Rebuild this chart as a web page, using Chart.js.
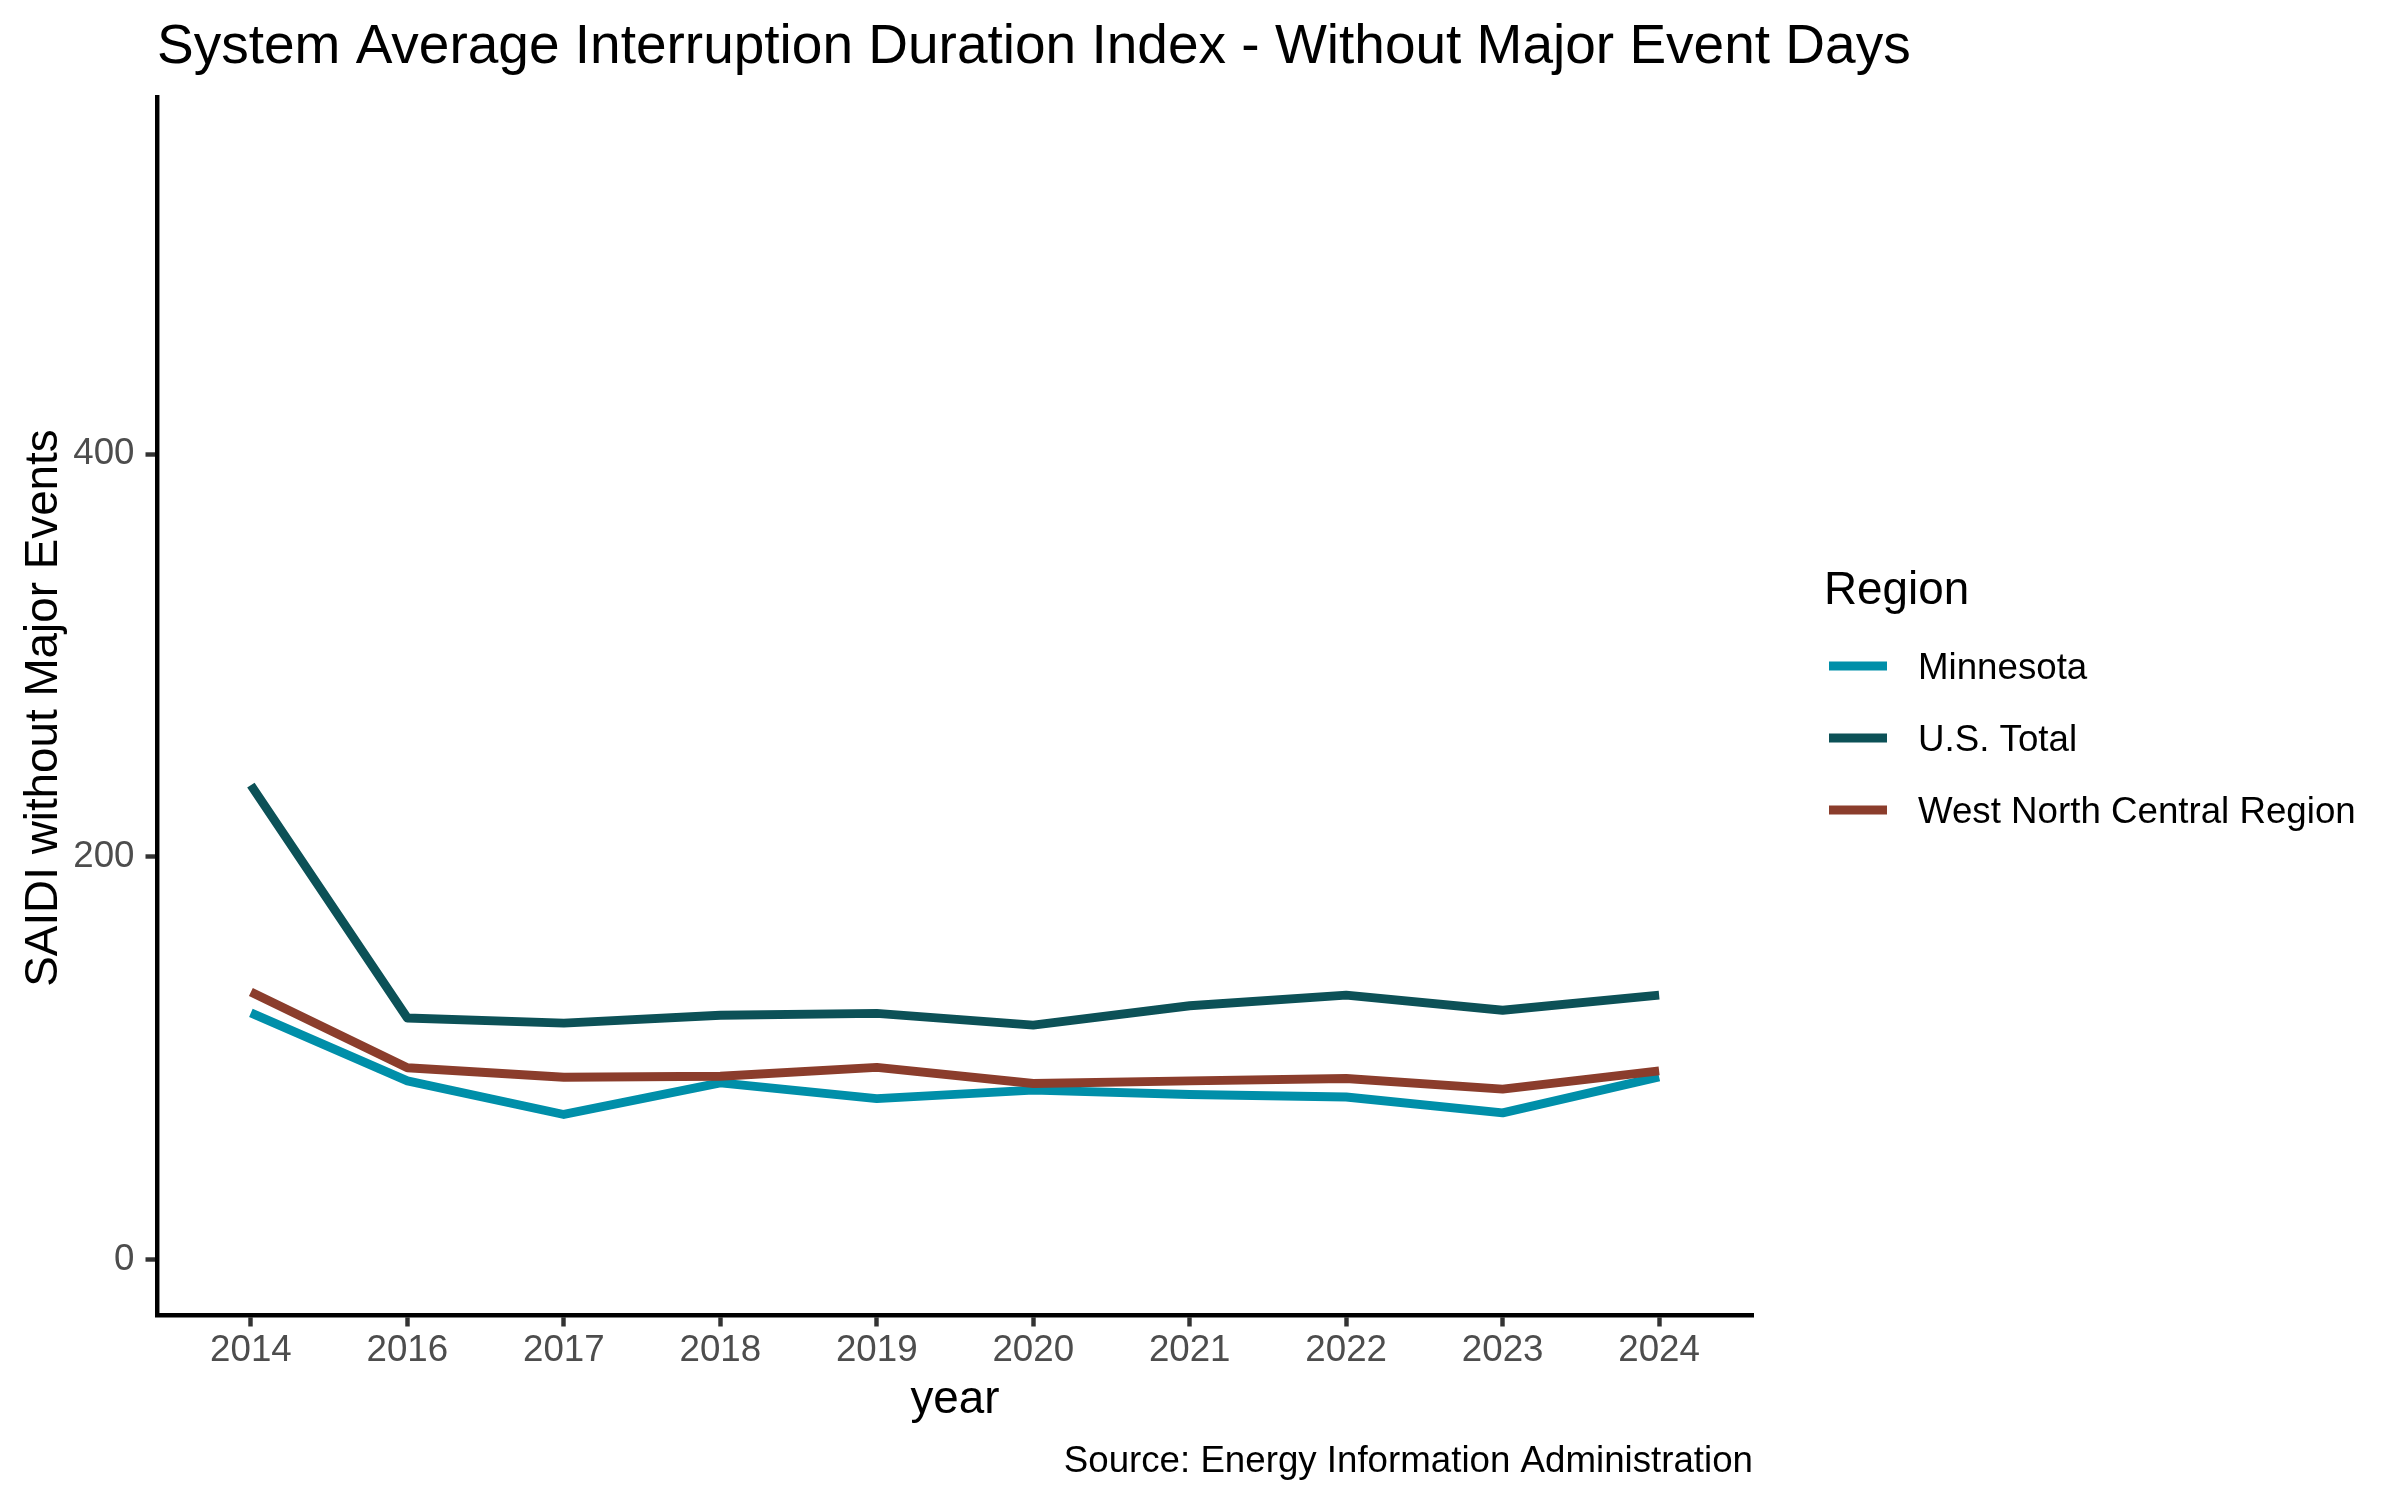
<!DOCTYPE html>
<html lang="en">
<head>
  <meta charset="UTF-8">
  <title>System Average Interruption Duration Index - Without Major Event Days</title>
  <script src="https://cdn.jsdelivr.net/npm/chart.js@4.4.1/dist/chart.umd.min.js"></script>
  <style>
    html, body { margin: 0; padding: 0; background: #fff; }
    canvas { display: block; }
  </style>
</head>
<body>
  <canvas id="saidiChart" width="2400" height="1500"></canvas>

  <script>
    // data (discrete year axis, 2015 is missing in the source)
    const years = ['2014', '2016', '2017', '2018', '2019', '2020', '2021', '2022', '2023', '2024'];
    const regions = ['Minnesota', 'U.S. Total', 'West North Central Region'];
    const minnesota = [122.6, 88.8, 72.1, 87.8, 80.0, 84.2, 82.0, 80.8, 72.9, 90.8];
    const usTotal = [235.7, 120.0, 117.5, 121.4, 122.3, 116.5, 126.1, 131.4, 123.9, 131.4];
    const westNorthCentral = [132.9, 95.3, 90.6, 91.1, 95.5, 87.5, 88.8, 90.0, 84.7, 93.8];
    const yTicks = [0, 200, 400];

    const titleText = 'System Average Interruption Duration Index - Without Major Event Days';
    const xTitle = 'year';
    const yTitle = 'SAIDI without Major Events';
    const legendTitle = 'Region';
    const captionText = 'Source: Energy Information Administration';

    const FONT = '"Liberation Sans", Arial, sans-serif';
    const colors = ['#008FA9', '#0C5157', '#8B3D2C'];

    function toPoints(values) {
      return values.map((v, i) => ({ x: i, y: v }));
    }

    // title, axis titles, caption and legend drawn by hand (ggplot layout)
    const textPlugin = {
      id: 'textPlugin',
      afterDraw(chart) {
        const ctx = chart.ctx;
        const area = chart.chartArea;
        ctx.save();
        ctx.fillStyle = '#000';
        ctx.textBaseline = 'alphabetic';

        ctx.font = '55px ' + FONT;
        ctx.textAlign = 'left';
        ctx.fillText(titleText, area.left, 63);

        ctx.font = '45.8px ' + FONT;
        ctx.textAlign = 'center';
        ctx.fillText(xTitle, (area.left + area.right) / 2, 1413);

        ctx.save();
        ctx.translate(57, (area.top + area.bottom) / 2 + 2);
        ctx.rotate(-Math.PI / 2);
        ctx.fillText(yTitle, 0, 0);
        ctx.restore();

        ctx.font = '36.7px ' + FONT;
        ctx.textAlign = 'right';
        ctx.fillText(captionText, area.right, 1472);

        // legend
        ctx.textAlign = 'left';
        ctx.font = '45.8px ' + FONT;
        ctx.fillText(legendTitle, 1824, 604);
        ctx.font = '36.7px ' + FONT;
        chart.data.datasets.forEach((ds, i) => {
          const y = 666 + i * 72;
          ctx.strokeStyle = ds.borderColor;
          ctx.lineWidth = ds.borderWidth;
          ctx.lineCap = 'butt';
          ctx.beginPath();
          ctx.moveTo(1829, y);
          ctx.lineTo(1887, y);
          ctx.stroke();
          ctx.fillText(ds.label, 1918, y + 12.6);
        });
        ctx.restore();
      }
    };

    const lineStyle = {
      borderWidth: 8.9,
      pointRadius: 0,
      pointHoverRadius: 0,
      tension: 0,
      fill: false,
      borderCapStyle: 'butt',
      borderJoinStyle: 'round'
    };

    const axisCommon = {
      grid: {
        display: true,
        drawOnChartArea: false,
        drawTicks: true,
        tickLength: 11.5,
        tickColor: '#333333',
        tickWidth: 4.45
      },
      border: { display: true, color: '#000000', width: 4.45 },
      ticks: {
        color: '#4D4D4D',
        font: { family: FONT, size: 36.7 },
        autoSkip: false,
        maxRotation: 0
      }
    };

    const ctx = document.getElementById('saidiChart').getContext('2d');
    new Chart(ctx, {
      type: 'line',
      data: {
        datasets: [
          Object.assign({ label: regions[0], data: toPoints(minnesota), borderColor: colors[0], order: 2 }, lineStyle),
          Object.assign({ label: regions[1], data: toPoints(usTotal), borderColor: colors[1], order: 1 }, lineStyle),
          Object.assign({ label: regions[2], data: toPoints(westNorthCentral), borderColor: colors[2], order: 0 }, lineStyle)
        ]
      },
      options: {
        responsive: false,
        devicePixelRatio: 1,
        animation: false,
        layout: { padding: { top: 97, right: 647, bottom: 0, left: 0 } },
        plugins: {
          legend: { display: false },
          title: { display: false },
          tooltip: { enabled: false }
        },
        scales: {
          x: {
            type: 'linear',
            min: -0.6,
            max: years.length - 1 + 0.6,
            grid: axisCommon.grid,
            border: axisCommon.border,
            ticks: Object.assign({}, axisCommon.ticks, {
              padding: 2,
              callback: (v) => years[v]
            }),
            afterBuildTicks: (axis) => {
              axis.ticks = years.map((_, i) => ({ value: i }));
            },
            afterFit: (scale) => { scale.height = 185; }
          },
          y: {
            type: 'linear',
            min: -27.5,
            max: 577.5,
            grid: axisCommon.grid,
            border: axisCommon.border,
            ticks: Object.assign({}, axisCommon.ticks, { padding: 11 }),
            afterBuildTicks: (axis) => {
              axis.ticks = yTicks.map(v => ({ value: v }));
            },
            afterFit: (scale) => { scale.width = 157; }
          }
        }
      },
      plugins: [textPlugin]
    });
  </script>
</body>
</html>
